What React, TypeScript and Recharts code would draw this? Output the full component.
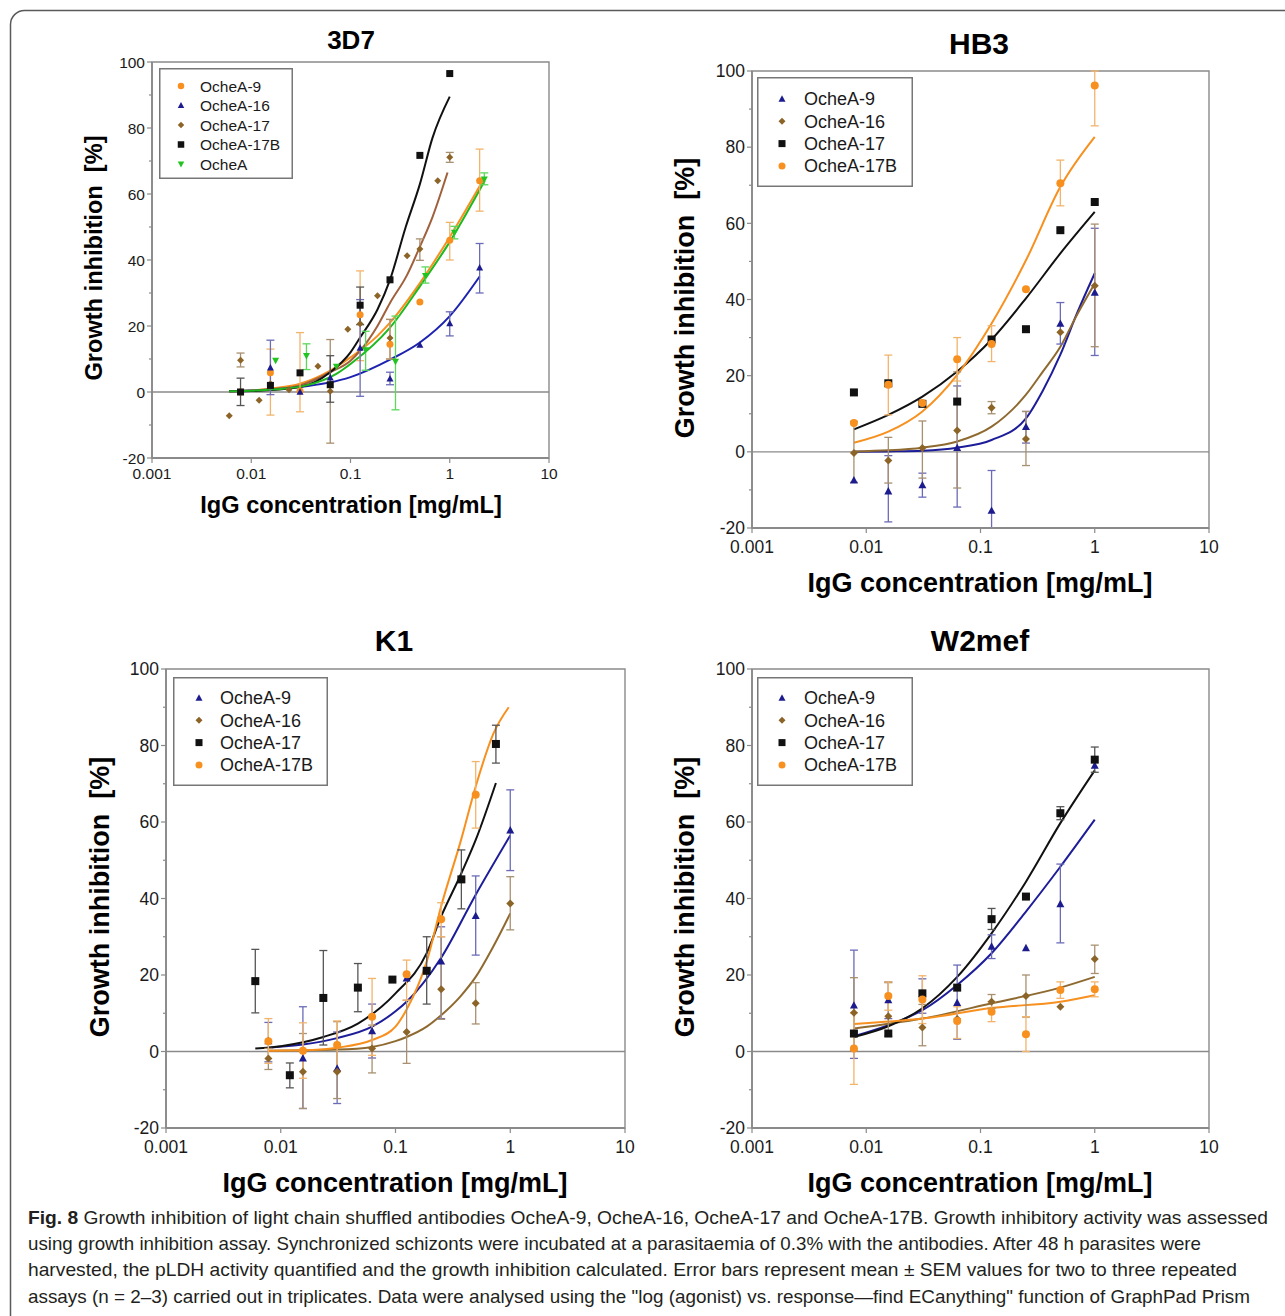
import React from "react";
import {
  ComposedChart,
  Line,
  Scatter,
  ErrorBar,
  XAxis,
  YAxis,
  ReferenceLine,
  ReferenceArea,
  Legend,
} from "recharts";

// rows are [x, y, errLow, errHigh]
type Row = number[];
type Kind = "circle" | "triUp" | "triDown" | "diamond" | "square";

const X_TICKS = [0.001, 0.01, 0.1, 1, 10];
const Y_TICKS = [-20, -10, 0, 10, 20, 30, 40, 50, 60, 70, 80, 90, 100];

// ---- 3D7 ----
const D7_9: Row[] = [[0.0078, 0], [0.0156, 5.8, -7, 13], [0.031, 0.3, -6, 18], [0.125, 23.4, 9.5, 36.7], [0.25, 14.5, 10, 22], [0.5, 27.3], [1, 46, 40, 51.4], [2, 64, 54.8, 73.6]];
const D7_16: Row[] = [[0.0078, 0], [0.0156, 7.3, -0.8, 15.7], [0.031, 0], [0.0625, 4.3], [0.125, 13.3, -1.3, 28], [0.25, 4, 2.2, 6], [0.5, 14.2], [1, 20.7, 17, 24.3], [2, 37.6, 30, 45]];
const D7_17: Row[] = [[0.006, -7.2], [0.0078, 9.6, 7.6, 11.8], [0.012, -2.5], [0.0156, 2.5], [0.024, 0.7], [0.047, 7.8], [0.0625, 0.2, -15.5, 15.9], [0.094, 19], [0.125, 20.7], [0.187, 29.2], [0.25, 16.4, 10, 22], [0.372, 41.3], [0.5, 43.3, 39.9, 46.4], [0.757, 64], [1, 71.1, 69.6, 72.6]];
const D7_17B: Row[] = [[0.0078, 0, -4.1, 4.2], [0.0156, 2], [0.031, 5.8], [0.0625, 2.2, -3.1, 11], [0.125, 26.3, 20.4, 31.8], [0.25, 34], [0.5, 71.7], [1, 96.5]];
const D7_A: Row[] = [[0.0176, 9.6], [0.036, 11, 6.8, 14.6], [0.072, 7.8], [0.142, 12.8, 6.6, 18.4], [0.284, 9.3, -5.4, 23], [0.569, 35.3, 33, 37.9], [1.114, 48.4, 46.4, 50.2], [2.23, 64.5, 62.8, 66.4]];

const D7_9_FIT: Row[] = [[0.006, 0.2], [0.0156, 1], [0.031, 2.5], [0.0625, 6.5], [0.1, 10.5], [0.187, 17], [0.25, 21], [0.5, 33], [1, 47], [2.1, 63.5]];
const D7_16_FIT: Row[] = [[0.006, 0.2], [0.031, 1.5], [0.1, 4.5], [0.25, 9.8], [0.5, 15], [1, 23], [2, 35]];
const D7_17_FIT: Row[] = [[0.006, 0.2], [0.0156, 0.8], [0.031, 2], [0.0625, 6], [0.1, 9.5], [0.125, 12.5], [0.187, 20], [0.25, 27], [0.372, 35.5], [0.5, 44], [0.67, 53], [0.95, 66.5]];
const D7_17B_FIT: Row[] = [[0.006, 0.2], [0.01, 0.3], [0.031, 1.5], [0.0625, 6], [0.1, 12], [0.125, 16.5], [0.187, 25], [0.25, 34], [0.36, 50], [0.5, 63], [0.67, 77], [1, 89.5]];
const D7_A_FIT: Row[] = [[0.006, 0.2], [0.0176, 0.8], [0.036, 2], [0.072, 5.5], [0.1, 8.5], [0.25, 19.5], [0.5, 32], [1, 45.5], [2.25, 64]];

// ---- HB3 ----
const HB_9: Row[] = [[0.0078, -7.5], [0.0156, -10.4, -18.4, -1], [0.031, -8.8, -11.9, -5.6], [0.0625, 1, -14.5, 17.3], [0.125, -15.5, -20, -4.9], [0.25, 6.5, 2.3, 10.6], [0.5, 33.6, 28.3, 39.2], [1, 41.8, 25.3, 58.7]];
const HB_16: Row[] = [[0.0078, -0.3, -8, 8], [0.0156, -2.3, -8.2, 3.8], [0.031, 1, -6.9, 8.1], [0.0625, 5.6, -9.5, 21], [0.125, 11.6, 10, 13.2], [0.25, 3.4, -3.6, 10.6], [0.5, 31.4], [1, 43.6, 27.6, 59.8]];
const HB_17: Row[] = [[0.0078, 15.6], [0.0156, 18], [0.031, 12.6], [0.0625, 13.2], [0.125, 29.5], [0.25, 32.2], [0.5, 58.2], [1, 65.6]];
const HB_17B: Row[] = [[0.0078, 7.6], [0.0156, 17.6, 9.7, 25.4], [0.031, 12.8], [0.0625, 24.3, 18.6, 30], [0.125, 28.3, 23.7, 33.1], [0.25, 42.7], [0.5, 70.5, 64.6, 76.6], [1, 96.2, 85.6, 100]];

const HB_9_FIT: Row[] = [[0.0078, 0], [0.0156, 0.1], [0.031, 0.3], [0.0625, 1.1], [0.125, 3.1], [0.25, 8.8], [0.35, 16], [0.5, 25.5], [0.7, 36.4], [1, 46.9]];
const HB_16_FIT: Row[] = [[0.0078, 0.1], [0.0156, 0.4], [0.031, 1.1], [0.0625, 2.7], [0.125, 6.6], [0.25, 15], [0.35, 21], [0.5, 27.6], [0.7, 36], [1, 44.2]];
const HB_17_FIT: Row[] = [[0.0078, 5.9], [0.0156, 9.7], [0.031, 14.5], [0.0625, 21.1], [0.125, 29.5], [0.25, 40.3], [0.5, 52.1], [1, 63]];
const HB_17B_FIT: Row[] = [[0.0078, 2.4], [0.0156, 5.3], [0.031, 10.6], [0.0625, 20.2], [0.125, 33.7], [0.25, 50.3], [0.5, 69.6], [1, 82.7]];

// ---- K1 ----
const K1_9: Row[] = [[0.0078, 2.7, -2.7, 7.6], [0.0156, -1.8, -14.9, 11.7], [0.031, -4.5, -13.6, 5.1], [0.0625, 5.3, -1.7, 12.4], [0.125, 19.1], [0.25, 23.5, 8.6, 32.6], [0.5, 35.4, 25.2, 45.9], [1, 57.8, 47.3, 68.4]];
const K1_16: Row[] = [[0.0078, -1.8, -4.7, 0.8], [0.0156, -5.3, -14.9, 4.7], [0.031, -5.3, -12.3, 7.8], [0.0625, 0.8, -5.6, 6.9], [0.125, 5.1, -3.1, 13.4], [0.25, 16.3, 8.4, 30], [0.5, 12.6, 7.2, 18], [1, 38.7, 31.8, 45.7]];
const K1_17: Row[] = [[0.006, 18.4, 10.1, 26.7], [0.012, -6.2, -9.5, -3], [0.0235, 14, 1.7, 26.4], [0.047, 16.7, 10.4, 23], [0.094, 18.8], [0.187, 21.1, 12.4, 30], [0.375, 45, 37.3, 52.7], [0.75, 80.4, 75.4, 85.3]];
const K1_17B: Row[] = [[0.0078, 2.7, -3.1, 8.6], [0.0156, 0.2, -7, 7.5], [0.031, 1.7, -5, 8], [0.0625, 9.1, -1, 19.1], [0.125, 20.2, 13.4, 23.9], [0.25, 34.6, 30, 38.9], [0.5, 67.1, 58.4, 75.8]];

const K1_9_FIT: Row[] = [[0.0078, 1], [0.0156, 1.8], [0.031, 3.5], [0.0625, 6.5], [0.1, 10.5], [0.125, 13], [0.25, 24.5], [0.5, 41], [1, 56.5]];
const K1_16_FIT: Row[] = [[0.0078, 0.2], [0.031, 0.5], [0.0625, 1.2], [0.1, 2.7], [0.125, 3.8], [0.187, 6.5], [0.25, 9.5], [0.37, 14.5], [0.5, 19.5], [0.71, 27.4], [1, 36.1]];
const K1_17_FIT: Row[] = [[0.006, 0.8], [0.01, 1.4], [0.0235, 3.8], [0.047, 7.3], [0.1, 15.2], [0.187, 25.7], [0.25, 35.3], [0.375, 46.6], [0.5, 55.3], [0.75, 70.2]];
const K1_17B_FIT: Row[] = [[0.0078, 0.2], [0.0156, 0.3], [0.031, 1], [0.0625, 3], [0.1, 6.5], [0.125, 11], [0.187, 23.5], [0.25, 38], [0.37, 55], [0.5, 69.3], [0.71, 83], [0.97, 90]];

// ---- W2mef ----
const W_9: Row[] = [[0.0078, 12, -1.8, 26.5], [0.0156, 13.4, 8.6, 18.2], [0.031, 15, 10, 19], [0.0625, 12.7, 3.2, 22.6], [0.125, 27.4, 24.3, 30.5], [0.25, 27], [0.5, 38.5, 28.4, 49], [1, 74.7]];
const W_16: Row[] = [[0.0078, 10.1, 0.3, 19.3], [0.0156, 9.2, 4, 18], [0.031, 6.3, 1.5, 12.3], [0.0625, 8.5], [0.125, 13, 11.3, 14.9], [0.25, 14.5, 9, 20], [0.5, 11.7], [1, 24.2, 20.4, 27.8]];
const W_17: Row[] = [[0.0078, 4.7], [0.0156, 4.7], [0.031, 15.2], [0.0625, 16.7], [0.125, 34.6, 31.9, 37.4], [0.25, 40.5], [0.5, 62.3, 60.6, 64], [1, 76.3, 73, 79.6]];
const W_17B: Row[] = [[0.0078, 0.8, -8.6, 10.1], [0.0156, 14.5, 10.8, 18.2], [0.031, 13.6, 7.3, 19.8], [0.0625, 8, 3.4, 11.7], [0.125, 10.4, 7.8, 13], [0.25, 4.5, 0, 9.1], [0.5, 16.1, 13.9, 18.2], [1, 16.3, 14.3, 18.2]];

const W_9_FIT: Row[] = [[0.0078, 4], [0.0156, 6.9], [0.031, 10.8], [0.0625, 17.4], [0.125, 25.7], [0.25, 36.6], [0.5, 48.3], [1, 60.6]];
const W_16_FIT: Row[] = [[0.0078, 6], [0.031, 8.6], [0.125, 12.6], [0.5, 16.7], [1, 19.5]];
const W_17_FIT: Row[] = [[0.0078, 3.8], [0.0156, 6.6], [0.031, 11.3], [0.0625, 19.5], [0.125, 30.9], [0.25, 44.4], [0.5, 59.7], [1, 73.5]];
const W_17B_FIT: Row[] = [[0.0078, 7.2], [0.031, 8.6], [0.125, 11.4], [0.5, 13], [1, 14.7]];

const ORANGE = "#f7901e";
const NAVY = "#1c1c8e";
const BROWN = "#8c6428";
const BLACK = "#111111";
const GREEN = "#22c422";
const AXIS = "#8a8a8a";
const FONT = "'Liberation Sans', Arial, Helvetica, sans-serif";

type Series = {
  name: string;
  kind: Kind;
  color: string;
  err: string;
  line: string;
  pts: Row[];
  fit: Row[];
};

const s = (name: string, kind: Kind, color: string, err: string, line: string, pts: Row[], fit: Row[]): Series => ({ name, kind, color, err, line, pts, fit });

const P1_SERIES = [
  s("OcheA-9", "circle", ORANGE, "#f2b46c", ORANGE, D7_9, D7_9_FIT),
  s("OcheA-16", "triUp", NAVY, "#6b6bb8", "#1d22b0", D7_16, D7_16_FIT),
  s("OcheA-17", "diamond", BROWN, "#a89070", "#a0603c", D7_17, D7_17_FIT),
  s("OcheA-17B", "square", BLACK, "#555555", BLACK, D7_17B, D7_17B_FIT),
  s("OcheA", "triDown", GREEN, "#5ad85a", "#1fb81f", D7_A, D7_A_FIT),
];
const P2_SERIES = [
  s("OcheA-9", "triUp", NAVY, "#6b6bb8", "#1d1d9a", HB_9, HB_9_FIT),
  s("OcheA-16", "diamond", BROWN, "#a89070", "#8f6a30", HB_16, HB_16_FIT),
  s("OcheA-17", "square", BLACK, "#555555", BLACK, HB_17, HB_17_FIT),
  s("OcheA-17B", "circle", ORANGE, "#f2b46c", ORANGE, HB_17B, HB_17B_FIT),
];
const P3_SERIES = [
  s("OcheA-9", "triUp", NAVY, "#6b6bb8", "#1d1d9a", K1_9, K1_9_FIT),
  s("OcheA-16", "diamond", BROWN, "#a89070", "#8f6a30", K1_16, K1_16_FIT),
  s("OcheA-17", "square", BLACK, "#555555", BLACK, K1_17, K1_17_FIT),
  s("OcheA-17B", "circle", ORANGE, "#f2b46c", ORANGE, K1_17B, K1_17B_FIT),
];
const P4_SERIES = [
  s("OcheA-9", "triUp", NAVY, "#6b6bb8", "#1d1d9a", W_9, W_9_FIT),
  s("OcheA-16", "diamond", BROWN, "#a89070", "#8f6a30", W_16, W_16_FIT),
  s("OcheA-17", "square", BLACK, "#555555", BLACK, W_17, W_17_FIT),
  s("OcheA-17B", "circle", ORANGE, "#f2b46c", ORANGE, W_17B, W_17B_FIT),
];

const CAPTION = [
  "Growth inhibition of light chain shuffled antibodies OcheA-9, OcheA-16, OcheA-17 and OcheA-17B. Growth inhibitory activity was assessed",
  "using growth inhibition assay. Synchronized schizonts were incubated at a parasitaemia of 0.3% with the antibodies. After 48 h parasites were",
  "harvested, the pLDH activity quantified and the growth inhibition calculated. Error bars represent mean ± SEM values for two to three repeated",
  'assays (n = 2–3) carried out in triplicates. Data were analysed using the "log (agonist) vs. response—find ECanything" function of GraphPad Prism',
];
const CAPTION_ENDS = [1268, 1201, 1237, 1250];

function Marker({ kind, cx, cy, size, fill }: { kind: Kind; cx: number; cy: number; size: number; fill: string }) {
  const r = size / 2;
  if (cx == null || cy == null || isNaN(cx) || isNaN(cy)) return null;
  switch (kind) {
    case "circle":
      return <circle cx={cx} cy={cy} r={r} fill={fill} />;
    case "square":
      return <rect x={cx - r} y={cy - r} width={size} height={size} fill={fill} />;
    case "diamond":
      return <polygon points={`${cx},${cy - r} ${cx + r},${cy} ${cx},${cy + r} ${cx - r},${cy}`} fill={fill} />;
    case "triUp":
      return <polygon points={`${cx},${cy - r * 1.1} ${cx + r},${cy + r * 0.75} ${cx - r},${cy + r * 0.75}`} fill={fill} />;
    default:
      return <polygon points={`${cx},${cy + r * 1.1} ${cx + r},${cy - r * 0.75} ${cx - r},${cy - r * 0.75}`} fill={fill} />;
  }
}

function YTick(props: any) {
  const { x, y, payload, fontSize } = props;
  const v = payload.value;
  const major = v % 20 === 0;
  return (
    <g>
      <line x1={x} x2={x - (major ? 5 : 3)} y1={y} y2={y} stroke={AXIS} strokeWidth={1.2} />
      {major && (
        <text x={x - 7} y={y} dy="0.36em" textAnchor="end" fontSize={fontSize} fill="#1a1a1a">
          {v}
        </text>
      )}
    </g>
  );
}

function LegendBox({ series, w, h, first, step, mx, tx, fontSize, msize }: any) {
  return (
    <svg width={w} height={h} style={{ display: "block" }}>
      <rect x={0.75} y={0.75} width={w - 1.5} height={h - 1.5} fill="#fff" stroke="#777" strokeWidth={1.5} />
      {series.map((sr: Series, i: number) => (
        <g key={sr.name}>
          <Marker kind={sr.kind} cx={mx} cy={first + i * step} size={msize} fill={sr.color} />
          <text x={tx} y={first + i * step} dy="0.36em" fontSize={fontSize} fill="#1a1a1a" fontFamily={FONT}>
            {sr.name}
          </text>
        </g>
      ))}
    </svg>
  );
}

function Panel({ left, top, width, height, margin, series, tickFont, tickGap, msize, legend }: any) {
  return (
    <div style={{ position: "absolute", left, top }}>
      <ComposedChart width={width} height={height} margin={margin}>
        <XAxis
          dataKey="x"
          type="number"
          scale="log"
          domain={[0.001, 10]}
          allowDataOverflow
          ticks={X_TICKS}
          interval={0}
          height={30}
          tickSize={5}
          tickMargin={tickGap}
          tickFormatter={(v: number) => String(v)}
          tick={{ fontSize: tickFont, fill: "#1a1a1a" }}
          axisLine={{ stroke: AXIS, strokeWidth: 1.8 }}
          tickLine={{ stroke: AXIS, strokeWidth: 1.2 }}
        />
        <YAxis
          dataKey="y"
          type="number"
          domain={[-20, 100]}
          allowDataOverflow
          ticks={Y_TICKS}
          interval={0}
          width={60}
          tickSize={0}
          tickMargin={0}
          tickLine={false}
          tick={<YTick fontSize={tickFont} />}
          axisLine={{ stroke: AXIS, strokeWidth: 1.8 }}
        />
        <ReferenceArea x1={0.001} x2={10} y1={-20} y2={100} fill="none" stroke={AXIS} strokeWidth={1.4} ifOverflow="visible" />
        <ReferenceLine y={0} stroke={AXIS} strokeWidth={1.3} />
        {series.map((sr: Series) => (
          <Line
            key={sr.name + "-fit"}
            data={sr.fit.map(([x, y]) => ({ x, y }))}
            dataKey="y"
            type="monotone"
            stroke={sr.line}
            strokeWidth={2}
            dot={false}
            activeDot={false}
            isAnimationActive={false}
            legendType="none"
          />
        ))}
        {series.map((sr: Series) => (
          <Scatter
            key={sr.name}
            name={sr.name}
            data={sr.pts.map(([x, y, lo, hi]) => ({ x, y, err: lo == null ? undefined : [y - lo, hi - y] }))}
            dataKey="y"
            isAnimationActive={false}
            shape={(p: any) => <Marker kind={sr.kind} cx={p.cx} cy={p.cy} size={msize} fill={sr.color} />}
          >
            <ErrorBar dataKey="err" direction="y" width={4} stroke={sr.err} strokeWidth={1.3} />
          </Scatter>
        ))}
        <Legend
          layout="vertical"
          align="center"
          verticalAlign="middle"
          wrapperStyle={{ left: legend.x, top: legend.y, width: legend.w, height: legend.h }}
          content={() => <LegendBox series={series} {...legend} />}
        />
      </ComposedChart>
    </div>
  );
}

function Txt({ x, y, size, children, rotate }: any) {
  return (
    <div
      style={{
        position: "absolute",
        left: x,
        top: y,
        transform: `translate(-50%, -50%)${rotate ? " rotate(-90deg)" : ""}`,
        fontSize: size,
        fontWeight: "bold",
        fontFamily: FONT,
        whiteSpace: "pre",
        lineHeight: 1,
        color: "#000",
      }}
    >
      {children}
    </div>
  );
}

const XLABEL = "IgG concentration [mg/mL]";
const YLABEL = "Growth inhibition  [%]";

export default function App() {
  return (
    <div style={{ position: "absolute", left: 0, top: 0, width: 1285, height: 1316, background: "#fff", overflow: "hidden", fontFamily: FONT }}>
      <svg width={1285} height={1316} style={{ position: "absolute", left: 0, top: 0 }}>
        <rect x={10.5} y={10.5} width={1320} height={1340} rx={14} fill="none" stroke="#5a5a5a" strokeWidth={1.5} />
        {CAPTION.map((line, i) => (
          <text
            key={i}
            x={28}
            y={1224 + i * 26.2}
            fontSize={19}
            fill="#231f20"
            fontFamily="'Liberation Sans Narrow', 'Liberation Sans', Arial, sans-serif"
            textLength={CAPTION_ENDS[i] - 28}
            lengthAdjust="spacingAndGlyphs"
          >
            {i === 0 && <tspan fontWeight="bold">Fig. 8 </tspan>}
            {line}
          </text>
        ))}
      </svg>

      <Panel
        left={0}
        top={0}
        width={600}
        height={540}
        margin={{ top: 62, right: 51, bottom: 52, left: 92 }}
        series={P1_SERIES}
        tickFont={15.5}
        tickGap={5}
        msize={7}
        legend={{ x: 159, y: 68, w: 134, h: 111, first: 18, step: 19.5, mx: 22, tx: 41, fontSize: 15.5, msize: 6.5 }}
      />
      <Panel
        left={640}
        top={0}
        width={640}
        height={600}
        margin={{ top: 71, right: 71, bottom: 42, left: 52 }}
        series={P2_SERIES}
        tickFont={17.5}
        tickGap={8}
        msize={8}
        legend={{ x: 117, y: 77, w: 156, h: 110, first: 22, step: 22.3, mx: 25, tx: 47, fontSize: 18, msize: 7 }}
      />
      <Panel
        left={0}
        top={600}
        width={640}
        height={600}
        margin={{ top: 69, right: 15, bottom: 42, left: 106 }}
        series={P3_SERIES}
        tickFont={17.5}
        tickGap={8}
        msize={8}
        legend={{ x: 173, y: 77, w: 155, h: 109, first: 21, step: 22.3, mx: 26, tx: 47, fontSize: 18, msize: 7 }}
      />
      <Panel
        left={640}
        top={600}
        width={640}
        height={600}
        margin={{ top: 69, right: 71, bottom: 42, left: 52 }}
        series={P4_SERIES}
        tickFont={17.5}
        tickGap={8}
        msize={8}
        legend={{ x: 117, y: 77, w: 156, h: 109, first: 21, step: 22.3, mx: 25, tx: 47, fontSize: 18, msize: 7 }}
      />

      <Txt x={351} y={40} size={26}>3D7</Txt>
      <Txt x={979} y={44} size={30}>HB3</Txt>
      <Txt x={394} y={641} size={30}>K1</Txt>
      <Txt x={980} y={641} size={30}>W2mef</Txt>

      <Txt x={351} y={506} size={23.6}>{XLABEL}</Txt>
      <Txt x={980} y={583} size={27}>{XLABEL}</Txt>
      <Txt x={395} y={1183} size={27}>{XLABEL}</Txt>
      <Txt x={980} y={1183} size={27}>{XLABEL}</Txt>

      <Txt x={95} y={258} size={23.6} rotate>{YLABEL}</Txt>
      <Txt x={685} y={298} size={27} rotate>{YLABEL}</Txt>
      <Txt x={100} y={897} size={27} rotate>{YLABEL}</Txt>
      <Txt x={685} y={897} size={27} rotate>{YLABEL}</Txt>
    </div>
  );
}
